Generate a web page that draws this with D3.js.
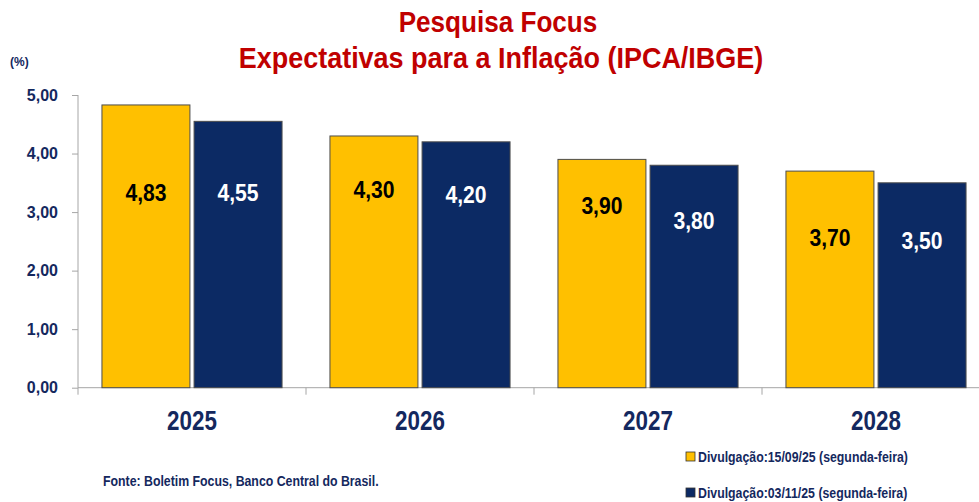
<!DOCTYPE html>
<html>
<head>
<meta charset="utf-8">
<script src="https://d3js.org/d3.v7.min.js"></script>
<style>
  body { margin: 0; background: #fff; }
  svg { display: block; font-family: "Liberation Sans", Arial, sans-serif; font-weight: bold; }
  /* imita Arial Narrow */
  .nm { transform-box: fill-box; transform-origin: center; transform: scaleX(0.83); }
  .ns { transform-box: fill-box; transform-origin: left; transform: scaleX(0.88); }
  .tt { transform-box: fill-box; transform-origin: center; transform: scaleX(0.88); }
</style>
</head>
<body>
<div id="chart"></div>
<script>
// dados
var anos = ["2025", "2026", "2027", "2028"];
var series = ["Divulgação:15/09/25 (segunda-feira)", "Divulgação:03/11/25 (segunda-feira)"];
var valores15set = [4.83, 4.30, 3.90, 3.70];
var valores03nov = [4.55, 4.20, 3.80, 3.50];
var yTicks = [0, 1, 2, 3, 4, 5];

var width = 979, height = 502;
var margin = { top: 95, right: -11, bottom: 114, left: 78 };
var cores = ["#FFC000", "#0C2A64"];
var corTexto = "#14285e";
// onde fica o rotulo dentro de cada barra (em unidades do eixo)
var rotuloEm = [[3.33, 3.38, 3.12, 2.56], [3.33, 3.31, 2.86, 2.52]];

var svg = d3.select("#chart")
  .append("svg")
  .attr("width", width)
  .attr("height", height);

var x = d3.scaleBand()
  .domain(anos)
  .range([margin.left, width - margin.right]);

var xs = d3.scaleBand()
  .domain([0, 1])
  .range([0, x.bandwidth()])
  .paddingInner(0.045)
  .paddingOuter(0.26);

var y = d3.scaleLinear()
  .domain([0, 5])
  .range([height - margin.bottom - 0.3, margin.top]);

// eixo y
var yAxis = svg.append("g")
  .attr("transform", "translate(" + margin.left + ",0)")
  .call(d3.axisLeft(y).tickValues(yTicks).tickSize(6).tickPadding(14)
    .tickFormat(d => d3.format(".2f")(d).replace(".", ",")));
yAxis.select(".domain").attr("stroke", "#a6a6a6").attr("d", "M0," + y(5) + "V" + y(0));
yAxis.selectAll(".tick line").attr("stroke", "#a6a6a6");
yAxis.selectAll("text")
  .attr("fill", corTexto)
  .style("font-size", "16px");

// eixo x
var xAxis = svg.append("g")
  .attr("transform", "translate(0," + y(0) + ")")
  .call(d3.axisBottom(x).tickSize(0).tickPadding(23));
xAxis.select(".domain").attr("stroke", "#a6a6a6").attr("d", "M" + margin.left + ",0H" + width);
xAxis.selectAll("text")
  .attr("class", "nm")
  .attr("fill", corTexto)
  .style("font-size", "27px");
// divisores entre categorias
svg.append("g")
  .selectAll("line")
  .data(anos)
  .join("line")
  .attr("x1", d => x(d))
  .attr("x2", d => x(d))
  .attr("y1", y(0))
  .attr("y2", y(0) + 7)
  .attr("stroke", "#a6a6a6");

// barras
var dados = [];
anos.forEach(function (a, i) {
  dados.push({ ano: a, s: 0, v: valores15set[i], r: rotuloEm[0][i] });
  dados.push({ ano: a, s: 1, v: valores03nov[i], r: rotuloEm[1][i] });
});

svg.append("g")
  .selectAll("rect")
  .data(dados)
  .join("rect")
  .attr("x", d => x(d.ano) + xs(d.s))
  .attr("y", d => y(d.v))
  .attr("width", xs.bandwidth())
  .attr("height", d => y(0) - y(d.v))
  .attr("fill", d => cores[d.s])
  .attr("stroke", "#4d4d4d")
  .attr("stroke-width", 1);

svg.append("g")
  .selectAll("text")
  .data(dados)
  .join("text")
  .attr("class", "tt")
  .attr("x", d => x(d.ano) + xs(d.s) + xs.bandwidth() / 2)
  .attr("y", d => y(d.r))
  .attr("dy", "0.36em")
  .attr("text-anchor", "middle")
  .attr("fill", d => d.s == 0 ? "#000" : "#fff")
  .style("font-size", "24px")
  .text(d => d3.format(".2f")(d.v).replace(".", ","));

// titulo
svg.append("text")
  .attr("x", 498).attr("y", 32)
  .attr("text-anchor", "middle")
  .attr("fill", "#C00000")
  .style("font-size", "29px")
  .style("transform-box", "fill-box").style("transform-origin", "center")
  .style("transform", "scaleX(0.9)")
  .text("Pesquisa Focus");
svg.append("text")
  .attr("x", 501).attr("y", 68)
  .attr("text-anchor", "middle")
  .attr("fill", "#C00000")
  .style("font-size", "29px")
  .style("transform-box", "fill-box").style("transform-origin", "center")
  .style("transform", "scaleX(0.93)")
  .text("Expectativas para a Inflação (IPCA/IBGE)");

svg.append("text")
  .attr("x", 10).attr("y", 66)
  .attr("fill", corTexto)
  .style("font-size", "12px")
  .text("(%)");

// fonte
svg.append("text")
  .attr("class", "ns")
  .attr("x", 103).attr("y", 486)
  .attr("fill", corTexto)
  .style("font-size", "14px")
  .text("Fonte: Boletim Focus, Banco Central do Brasil.");

// legenda
var leg = svg.append("g")
  .selectAll("g")
  .data(series)
  .join("g")
  .attr("transform", (d, i) => "translate(686," + (452 + i * 36) + ")");
leg.append("rect")
  .attr("width", 9).attr("height", 9)
  .attr("fill", (d, i) => cores[i])
  .attr("stroke", "#333")
  .attr("stroke-width", 0.8);
leg.append("text")
  .attr("class", "ns")
  .attr("x", 12).attr("y", 5)
  .attr("dy", "0.35em")
  .attr("fill", corTexto)
  .style("font-size", "14px")
  .text(d => d);
</script>
</body>
</html>
